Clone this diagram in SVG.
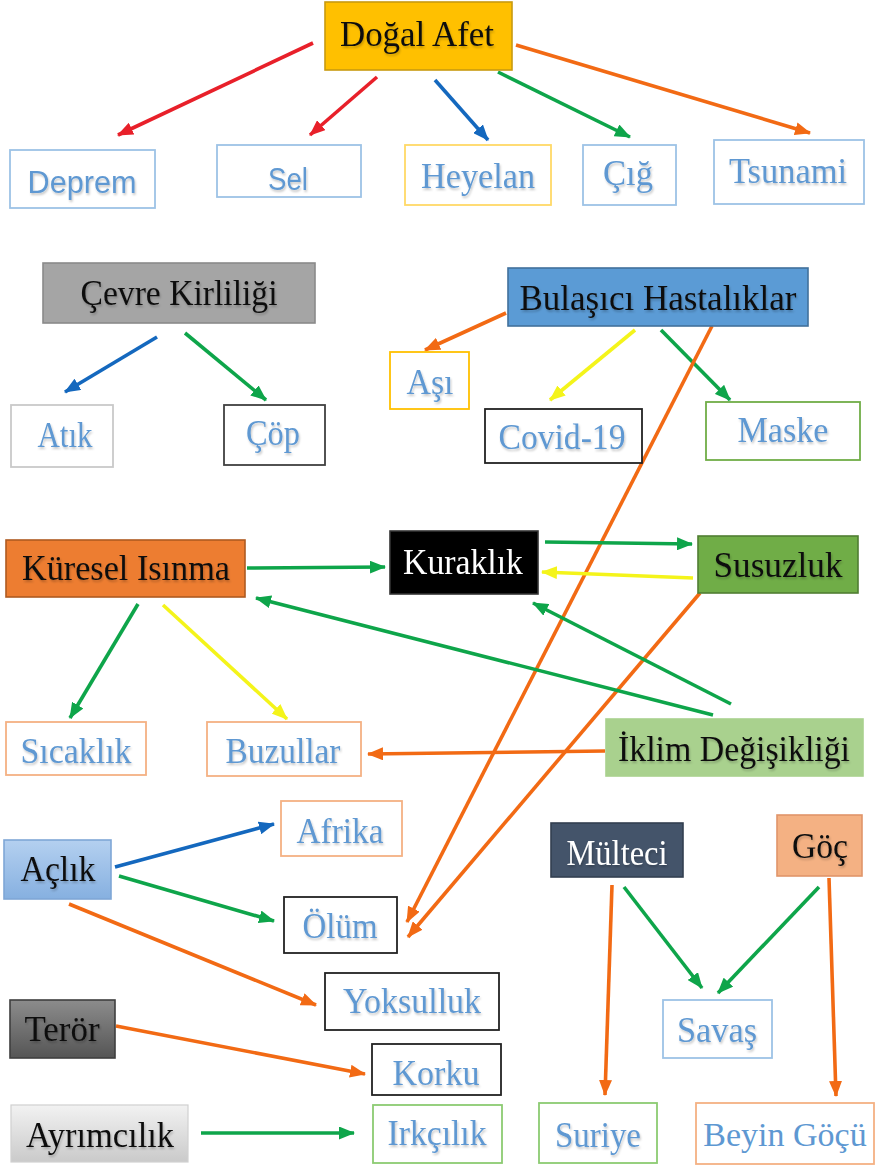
<svg xmlns="http://www.w3.org/2000/svg" width="881" height="1167" viewBox="0 0 881 1167">
<style>
.t{font-family:"Liberation Serif","Times New Roman",serif;font-size:36px;text-anchor:middle;filter:url(#sh)}
.s{font-family:"Liberation Sans",Arial,sans-serif;font-size:31px;text-anchor:middle;filter:url(#sh)}
.blk{fill:#111}
.wht{fill:#fff}
.lb{fill:#5E98D2}
.box{fill:#fff;stroke-width:1.8}
.c{fill:none;stroke-width:3.6}
.red{stroke:#E8202A}.blu{stroke:#1468BE}.grn{stroke:#0EA54A}.org{stroke:#F26A14}.yel{stroke:#F4F41A}
</style>
<defs>
<filter id="sh" x="-4%" y="-8%" width="110%" height="122%"><feDropShadow dx="1" dy="2" stdDeviation="1" flood-color="#000" flood-opacity="0.22"/></filter>
<marker id="mr" viewBox="0 0 16 13" refX="15" refY="6.5" markerWidth="16" markerHeight="13" markerUnits="userSpaceOnUse" orient="auto"><path d="M0,0 L16,6.5 L0,13 z" fill="#E8202A"/></marker>
<marker id="mb" viewBox="0 0 16 13" refX="15" refY="6.5" markerWidth="16" markerHeight="13" markerUnits="userSpaceOnUse" orient="auto"><path d="M0,0 L16,6.5 L0,13 z" fill="#1468BE"/></marker>
<marker id="mg" viewBox="0 0 16 13" refX="15" refY="6.5" markerWidth="16" markerHeight="13" markerUnits="userSpaceOnUse" orient="auto"><path d="M0,0 L16,6.5 L0,13 z" fill="#0EA54A"/></marker>
<marker id="mo" viewBox="0 0 16 13" refX="15" refY="6.5" markerWidth="16" markerHeight="13" markerUnits="userSpaceOnUse" orient="auto"><path d="M0,0 L16,6.5 L0,13 z" fill="#F26A14"/></marker>
<marker id="my" viewBox="0 0 16 13" refX="15" refY="6.5" markerWidth="16" markerHeight="13" markerUnits="userSpaceOnUse" orient="auto"><path d="M0,0 L16,6.5 L0,13 z" fill="#F4F41A"/></marker>
<linearGradient id="gA" x1="0" y1="0" x2="0" y2="1"><stop offset="0" stop-color="#B4D0F0"/><stop offset="1" stop-color="#86B0E0"/></linearGradient>
<linearGradient id="gT" x1="0" y1="0" x2="0" y2="1"><stop offset="0" stop-color="#8C8C8C"/><stop offset="1" stop-color="#555"/></linearGradient>
<linearGradient id="gY" x1="0" y1="0" x2="0" y2="1"><stop offset="0" stop-color="#F2F2F2"/><stop offset="1" stop-color="#CACACA"/></linearGradient>
</defs>

<g id="connectors">
<line class="c red" x1="313" y1="43" x2="118" y2="135" marker-end="url(#mr)"/>
<line class="c red" x1="377" y1="77" x2="310" y2="135" marker-end="url(#mr)"/>
<line class="c blu" x1="435" y1="80" x2="488" y2="140" marker-end="url(#mb)"/>
<line class="c grn" x1="498" y1="72" x2="630" y2="137" marker-end="url(#mg)"/>
<line class="c org" x1="516" y1="45" x2="810" y2="133" marker-end="url(#mo)"/>
<line class="c blu" x1="157" y1="337" x2="65" y2="392" marker-end="url(#mb)"/>
<line class="c grn" x1="185" y1="333" x2="266" y2="400" marker-end="url(#mg)"/>
<line class="c org" x1="506" y1="313" x2="425" y2="350" marker-end="url(#mo)"/>
<line class="c yel" x1="635" y1="330" x2="550" y2="400" marker-end="url(#my)"/>
<line class="c grn" x1="661" y1="330" x2="730" y2="400" marker-end="url(#mg)"/>
<line class="c org" x1="712" y1="326" x2="407" y2="922" marker-end="url(#mo)"/>
<line class="c org" x1="700" y1="593" x2="408" y2="937" marker-end="url(#mo)"/>
<line class="c grn" x1="247" y1="568" x2="385" y2="567" marker-end="url(#mg)"/>
<line class="c grn" x1="545" y1="542" x2="692" y2="544" marker-end="url(#mg)"/>
<line class="c yel" x1="693" y1="578" x2="542" y2="572" marker-end="url(#my)"/>
<line class="c grn" x1="138" y1="604" x2="70" y2="718" marker-end="url(#mg)"/>
<line class="c yel" x1="163" y1="605" x2="287" y2="719" marker-end="url(#my)"/>
<line class="c org" x1="605" y1="751" x2="368" y2="754" marker-end="url(#mo)"/>
<line class="c grn" x1="713" y1="715" x2="256" y2="598" marker-end="url(#mg)"/>
<line class="c grn" x1="731" y1="704" x2="533" y2="603" marker-end="url(#mg)"/>
<line class="c blu" x1="115" y1="867" x2="274" y2="824" marker-end="url(#mb)"/>
<line class="c grn" x1="119" y1="876" x2="274" y2="921" marker-end="url(#mg)"/>
<line class="c org" x1="69" y1="904" x2="316" y2="1005" marker-end="url(#mo)"/>
<line class="c org" x1="116" y1="1026" x2="365" y2="1074" marker-end="url(#mo)"/>
<line class="c grn" x1="201" y1="1133" x2="354" y2="1133" marker-end="url(#mg)"/>
<line class="c org" x1="612" y1="885" x2="605" y2="1095" marker-end="url(#mo)"/>
<line class="c grn" x1="624" y1="887" x2="702" y2="988" marker-end="url(#mg)"/>
<line class="c grn" x1="819" y1="887" x2="718" y2="993" marker-end="url(#mg)"/>
<line class="c org" x1="829" y1="878" x2="836" y2="1096" marker-end="url(#mo)"/>
</g>

<g id="dogal-afet"><rect x="325" y="2" width="187" height="68" fill="#FFC000" stroke="#C99A10" stroke-width="1.6"/><text class="t blk" x="417" y="46" textLength="154" lengthAdjust="spacingAndGlyphs">Doğal Afet</text></g>
<g id="deprem"><rect class="box" x="10" y="150" width="145" height="58" stroke="#9DC3E6"/><text class="s lb" x="82" y="193" textLength="109" lengthAdjust="spacingAndGlyphs">Deprem</text></g>
<g id="sel"><rect class="box" x="217" y="145" width="144" height="52" stroke="#9DC3E6"/><text class="s lb" x="288" y="190" textLength="40" lengthAdjust="spacingAndGlyphs">Sel</text></g>
<g id="heyelan"><rect class="box" x="405" y="145" width="146" height="60" stroke="#FFD966"/><text class="t lb" x="478" y="188" textLength="114" lengthAdjust="spacingAndGlyphs">Heyelan</text></g>
<g id="cig"><rect class="box" x="583" y="145" width="93" height="60" stroke="#9DC3E6"/><text class="t lb" x="628" y="185" textLength="50" lengthAdjust="spacingAndGlyphs">Çığ</text></g>
<g id="tsunami"><rect class="box" x="714" y="140" width="150" height="64" stroke="#9DC3E6"/><text class="t lb" x="788" y="183" textLength="118" lengthAdjust="spacingAndGlyphs">Tsunami</text></g>

<g id="cevre-kirliligi"><rect x="43" y="263" width="272" height="60" fill="#A5A5A5" stroke="#8A8A8A" stroke-width="1.6"/><text class="t blk" x="179" y="305" textLength="197" lengthAdjust="spacingAndGlyphs">Çevre Kirliliği</text></g>
<g id="atik"><rect class="box" x="11" y="405" width="102" height="62" stroke="#C9C9C9"/><text class="t lb" x="65" y="447" textLength="55" lengthAdjust="spacingAndGlyphs">Atık</text></g>
<g id="cop"><rect class="box" x="224" y="405" width="101" height="60" stroke="#404040"/><text class="t lb" x="273" y="445" textLength="54" lengthAdjust="spacingAndGlyphs">Çöp</text></g>

<g id="bulasici-hastaliklar"><rect x="508" y="268" width="300" height="58" fill="#5B9BD5" stroke="#41719C" stroke-width="1.6"/><text class="t blk" x="658" y="310" textLength="277" lengthAdjust="spacingAndGlyphs">Bulaşıcı Hastalıklar</text></g>
<g id="asi"><rect class="box" x="390" y="352" width="79" height="57" stroke="#FFC000"/><text class="t lb" x="430" y="394" textLength="47" lengthAdjust="spacingAndGlyphs">Aşı</text></g>
<g id="covid"><rect class="box" x="485" y="409" width="157" height="54" stroke="#222"/><text class="t lb" x="562" y="449" textLength="127" lengthAdjust="spacingAndGlyphs">Covid-19</text></g>
<g id="maske"><rect class="box" x="706" y="402" width="154" height="58" stroke="#70AD47"/><text class="t lb" x="783" y="442" textLength="91" lengthAdjust="spacingAndGlyphs">Maske</text></g>

<g id="kuresel-isinma"><rect x="6" y="540" width="239" height="57" fill="#ED7D31" stroke="#AE5A21" stroke-width="1.6"/><text class="t blk" x="126" y="580" textLength="208" lengthAdjust="spacingAndGlyphs">Küresel Isınma</text></g>
<g id="kuraklik"><rect x="390" y="531" width="148" height="63" fill="#000" stroke="#333" stroke-width="1.6"/><text class="t wht" x="463" y="574" textLength="120" lengthAdjust="spacingAndGlyphs">Kuraklık</text></g>
<g id="susuzluk"><rect x="698" y="536" width="160" height="57" fill="#70AD47" stroke="#507E32" stroke-width="1.6"/><text class="t blk" x="778" y="577" textLength="129" lengthAdjust="spacingAndGlyphs">Susuzluk</text></g>
<g id="sicaklik"><rect class="box" x="6" y="722" width="140" height="53" stroke="#F4B183"/><text class="t lb" x="76" y="763" textLength="111" lengthAdjust="spacingAndGlyphs">Sıcaklık</text></g>
<g id="buzullar"><rect class="box" x="207" y="722" width="154" height="54" stroke="#F4B183"/><text class="t lb" x="283" y="763" textLength="115" lengthAdjust="spacingAndGlyphs">Buzullar</text></g>
<g id="iklim-degisikligi"><rect x="606" y="719" width="257" height="57" fill="#A9D18E" stroke="#A9D18E" stroke-width="1.6"/><text class="t blk" x="734" y="761" textLength="232" lengthAdjust="spacingAndGlyphs">İklim Değişikliği</text></g>

<g id="aclik"><rect x="4" y="840" width="107" height="59" fill="url(#gA)" stroke="#7FA7D6" stroke-width="1.6"/><text class="t blk" x="58" y="881" textLength="75" lengthAdjust="spacingAndGlyphs">Açlık</text></g>
<g id="afrika"><rect class="box" x="281" y="801" width="121" height="55" stroke="#F4B183"/><text class="t lb" x="340" y="843" textLength="87" lengthAdjust="spacingAndGlyphs">Afrika</text></g>
<g id="olum"><rect class="box" x="284" y="897" width="113" height="56" stroke="#222"/><text class="t lb" x="340" y="938" textLength="75" lengthAdjust="spacingAndGlyphs">Ölüm</text></g>
<g id="yoksulluk"><rect class="box" x="325" y="973" width="174" height="57" stroke="#222"/><text class="t lb" x="412" y="1013" textLength="138" lengthAdjust="spacingAndGlyphs">Yoksulluk</text></g>
<g id="teror"><rect x="10" y="1000" width="105" height="58" fill="url(#gT)" stroke="#3F3F3F" stroke-width="1.6"/><text class="t blk" x="62" y="1041" textLength="75" lengthAdjust="spacingAndGlyphs">Terör</text></g>
<g id="korku"><rect class="box" x="372" y="1044" width="129" height="51" stroke="#222"/><text class="t lb" x="436" y="1085" textLength="87" lengthAdjust="spacingAndGlyphs">Korku</text></g>
<g id="ayrimcilik"><rect x="11" y="1105" width="177" height="57" fill="url(#gY)" stroke="#D0D0D0" stroke-width="1.2"/><text class="t blk" x="100" y="1147" textLength="148" lengthAdjust="spacingAndGlyphs">Ayrımcılık</text></g>
<g id="irkcilik"><rect class="box" x="373" y="1105" width="129" height="58" stroke="#8CCB72"/><text class="t lb" x="437" y="1145" textLength="99" lengthAdjust="spacingAndGlyphs">Irkçılık</text></g>

<g id="multeci"><rect x="551" y="823" width="132" height="54" fill="#44546A" stroke="#333F50" stroke-width="1.6"/><text class="t wht" x="617" y="865" textLength="101" lengthAdjust="spacingAndGlyphs">Mülteci</text></g>
<g id="goc"><rect x="777" y="815" width="85" height="61" fill="#F4B183" stroke="#E0956A" stroke-width="1.6"/><text class="t blk" x="820" y="858" textLength="56" lengthAdjust="spacingAndGlyphs">Göç</text></g>
<g id="savas"><rect class="box" x="663" y="1000" width="109" height="58" stroke="#9DC3E6"/><text class="t lb" x="717" y="1042" textLength="80" lengthAdjust="spacingAndGlyphs">Savaş</text></g>
<g id="suriye"><rect class="box" x="539" y="1103" width="118" height="60" stroke="#8CCB72"/><text class="t lb" x="598" y="1147" textLength="86" lengthAdjust="spacingAndGlyphs">Suriye</text></g>
<g id="beyin-gocu"><rect class="box" x="696" y="1103" width="178" height="61" stroke="#F4B183"/><text x="785" y="1146" font-family="Liberation Serif, Times New Roman, serif" font-size="34" text-anchor="middle" fill="#5E98D2">Beyin Göçü</text></g>
</svg>
